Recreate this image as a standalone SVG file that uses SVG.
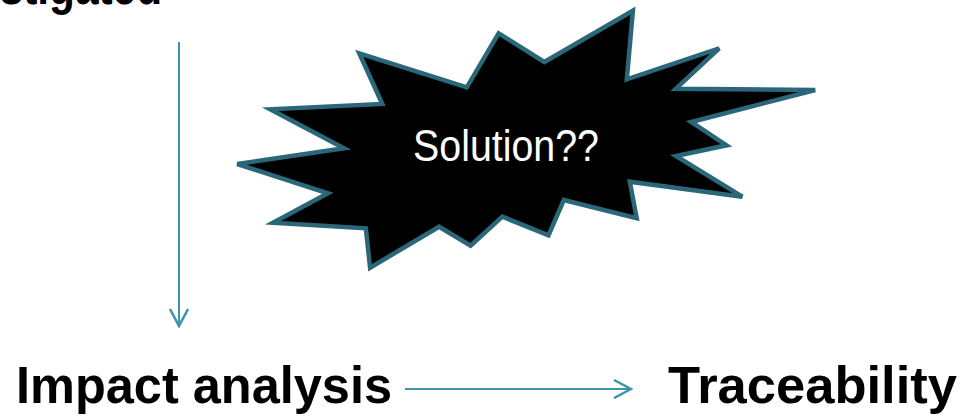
<svg xmlns="http://www.w3.org/2000/svg" width="964" height="416" viewBox="0 0 964 416">
<style>
.lbl{font-family:"Liberation Sans",Arial,sans-serif;font-weight:bold;font-size:52px;fill:#000}
.conn{stroke:#3a95a8;stroke-width:2;fill:none}
.star{fill:#000;stroke:#2a6778;stroke-width:4.5;stroke-linejoin:miter}
.stxt{font-family:"Liberation Sans",Arial,sans-serif;font-size:44px;fill:#fff}
</style>
<defs>
<marker id="arr" viewBox="0 0 20 20" refX="18" refY="10" markerWidth="20" markerHeight="20" orient="auto" markerUnits="userSpaceOnUse">
<path d="M1,1 L18,10 L1,19" fill="none" stroke="#3a95a8" stroke-width="2.5"/>
</marker>
</defs>
<rect width="964" height="416" fill="#fff"/>
<g id="investigated">
<text class="lbl" x="-85" y="4" textLength="247" lengthAdjust="spacingAndGlyphs">Investigated</text>
</g>
<g id="solution">
<polygon class="star" points="359.3,53.3 466.8,87.3 498.6,33.3 544.3,62 632.9,10.7 626.8,79.3 719.2,48.3 675.9,88.7 815.2,90 691.2,122 726.5,145.3 675.9,156 742.3,196.7 629.8,181.7 636.7,218.3 563.8,200 548.5,235.3 502.4,216.7 470.6,245.7 439.1,226.7 370.1,267.7 365.8,228.3 273,222.7 327.9,193.3 237.3,164 344,148.3 270.3,109.3 382.3,104"/>
<text class="stxt" x="413" y="161" textLength="186" lengthAdjust="spacingAndGlyphs">Solution??</text>
</g>
<g id="impact">
<text class="lbl" x="16" y="403" textLength="376" lengthAdjust="spacingAndGlyphs">Impact analysis</text>
</g>
<g id="traceability">
<text class="lbl" x="668" y="403" textLength="289" lengthAdjust="spacingAndGlyphs">Traceability</text>
</g>
<g id="connectors">
<line class="conn" x1="179" y1="42" x2="179" y2="326" marker-end="url(#arr)"/>
<line class="conn" x1="405" y1="389" x2="631" y2="389" marker-end="url(#arr)"/>
</g>
</svg>
